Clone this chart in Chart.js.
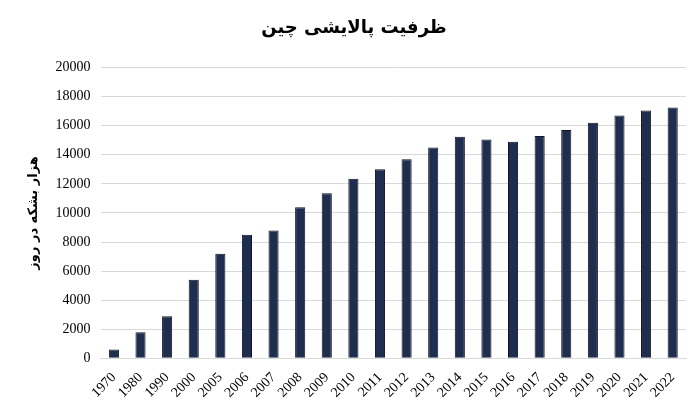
<!DOCTYPE html>
<html><head><meta charset="utf-8">
<script src="https://cdn.jsdelivr.net/npm/chart.js@4"></script>
<style>body{margin:0;background:#fff}#wrap{width:700px;height:408px}</style>
</head><body><div id="wrap"><canvas id="c"></canvas></div>
<script>
const years = ["1970","1980","1990","2000","2005","2006","2007","2008","2009","2010","2011","2012","2013","2014","2015","2016","2017","2018","2019","2020","2021","2022"];
const capacity = [600,1800,2900,5400,7200,8500,8800,10400,11350,12350,13000,13700,14500,15250,15050,14900,15300,15700,16200,16700,17050,17250];
const yTicks = [0,2000,4000,6000,8000,10000,12000,14000,16000,18000,20000];

new Chart(document.getElementById("c"), {
  type: "bar",
  data: {
    labels: years,
    datasets: [{
      data: capacity,
      backgroundColor: "#1f2d4e",
      borderColor: "#0d1526",
      borderWidth: 1,
      categoryPercentage: 1,
      barPercentage: 0.38,
    }],
  },
  options: {
    responsive: true,
    maintainAspectRatio: false,
    animation: false,
    layout: { padding: { left: 22, right: 14, top: 4, bottom: 4 } },
    plugins: {
      legend: { display: false },
      title: {
        display: true,
        text: "ظرفیت پالایشی چین",
        color: "#000",
        font: { family: "DejaVu Sans", size: 18, weight: "bold" },
        padding: { top: 14, bottom: 28 },
      },
    },
    scales: {
      y: {
        min: 0, max: 20000,
        afterBuildTicks: (s) => { s.ticks = yTicks.map((v) => ({ value: v })); },
        ticks: { color: "#000", font: { family: "Liberation Serif", size: 14 }, padding: 10, callback: (v) => String(v) },
        grid: { color: "#d9d9d9", drawTicks: false },
        border: { display: false },
        title: {
          display: true,
          text: "هزار بشکه در روز",
          color: "#000",
          font: { family: "DejaVu Sans", size: 13, weight: "bold" },
        },
      },
      x: {
        ticks: { color: "#000", font: { family: "Liberation Serif", size: 14 }, maxRotation: 45, minRotation: 45, autoSkip: false },
        grid: { display: false },
        border: { color: "#d9d9d9" },
      },
    },
  },
});
</script></body></html>
